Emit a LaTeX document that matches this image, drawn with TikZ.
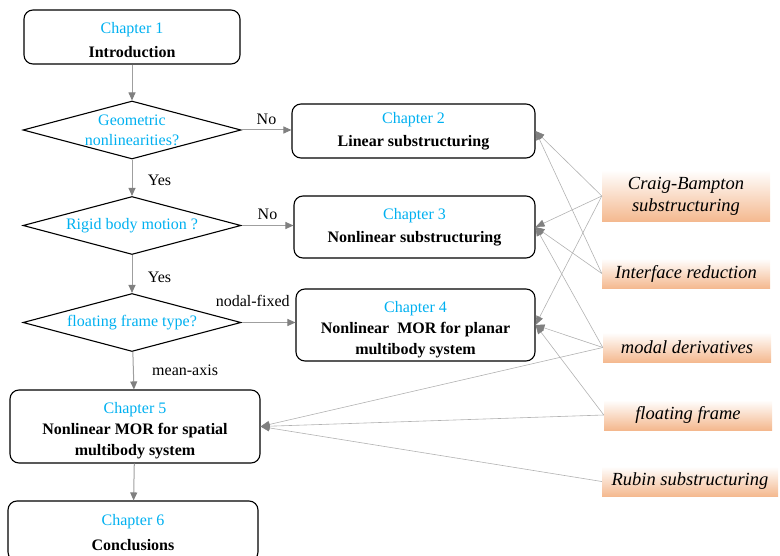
\documentclass[tikz,border=0pt]{standalone}
\usepackage{fontspec}
\setmainfont{Liberation Serif}
\usetikzlibrary{positioning, arrows.meta, shapes.geometric}
\definecolor{chapblue}{RGB}{0,176,240}
\definecolor{peach}{RGB}{244,184,142}
\newcommand{\chapno}[1]{{\color{chapblue}Chapter #1}}

\begin{document}
\begin{tikzpicture}[
		x=1pt, y=-1pt,
		box/.style={draw, line width=1.1pt, rounded corners=9pt, align=center, inner sep=0pt, font=\fontsize{16}{20.5}\selectfont},
		decision/.style={draw, line width=1.1pt, diamond, aspect=3.72, minimum width=218pt, minimum height=58pt, inner xsep=0pt, inner ysep=-3pt, align=center, text=chapblue, font=\fontsize{16}{20}\selectfont},
		tech/.style={top color=white, bottom color=peach, minimum width=168pt, inner sep=0pt, align=center, font=\fontsize{18.5}{22}\selectfont\itshape},
		lbl/.style={font=\fontsize{16}{20}\selectfont},
		arrow/.style={-{Triangle[length=8pt, width=7pt, color=gray]}, draw=gray!75, line width=1pt},
		ref/.style={-{Triangle[length=9pt, width=7pt, color=gray]}, draw=gray!60, line width=0.6pt}
		]
		\useasboundingbox (0,0) rectangle (780,556);
		
		% ==========================================
		% MAIN FLOW: chapters and decisions
		% ==========================================
		\node[box, minimum width=216pt, minimum height=54pt] (ch1) at (132,37) {
			\rule{0pt}{17pt}\chapno{1}\\[3pt]
			\textbf{Introduction}
		};
		\node[decision] (geo) at (132,130) {
			Geometric\\nonlinearities?
		};
		\node[box, minimum width=243pt, minimum height=54pt] (ch2) at (413.5,131) {
			\chapno{2}\\[3pt]
			\textbf{Linear substructuring}
		};
		\node[decision] (rigid) at (132,225.5) {Rigid body motion ?};
		\node[box, minimum width=241pt, minimum height=62pt] (ch3) at (414.5,227) {
			\chapno{3}\\[3pt]
			\textbf{Nonlinear substructuring}
		};
		\node[decision] (frame) at (132,322.5) {floating frame type?};
		\node[box, minimum width=239pt, minimum height=72pt] (ch4) at (415.5,325) {
			\rule{0pt}{20pt}\chapno{4}\\[1pt]
			\textbf{Nonlinear\ \ MOR for planar}\\
			\textbf{multibody system}
		};
		\node[box, minimum width=250pt, minimum height=73pt] (ch5) at (135,426.5) {
			\rule{0pt}{19pt}\chapno{5}\\[1pt]
			\textbf{Nonlinear MOR for spatial}\\
			\textbf{multibody system}
		};
		\node[box, minimum width=250pt, minimum height=60pt] (ch6) at (133,531) {
			\rule{0pt}{14pt}\chapno{6}\\[4pt]
			\textbf{Conclusions}
		};
		
		\draw[arrow] (ch1) -- (geo);
		\draw[arrow] (geo.east) -- (geo.east -| ch2.west) node[midway, above, yshift=2pt, lbl] {No};
		\draw[arrow] (geo) -- (rigid) node[midway, right=12pt, yshift=-3pt, lbl] {Yes};
		\draw[arrow] (rigid.east) -- (rigid.east -| ch3.west) node[midway, above, yshift=2pt, lbl] {No};
		\draw[arrow] (rigid) -- (frame) node[midway, right=12pt, yshift=-3pt, lbl] {Yes};
		\draw[arrow] (frame.east) -- (frame.east -| ch4.west) node[pos=1, above left, xshift=-2pt, yshift=12pt, lbl] {nodal-fixed};
		\draw[arrow] (frame) -- (ch5) node[midway, right=15pt, lbl] {mean-axis};
		\draw[arrow] (ch5) -- (ch6);
		
		% ==========================================
		% RIGHT COLUMN: techniques
		% ==========================================
		\node[tech, minimum height=52pt] (cb) at (686,196) {Craig-Bampton\\substructuring};
		\node[tech, minimum height=30pt] (ifr) at (686,273.5) {Interface reduction};
		\node[tech, minimum height=30pt] (md) at (687,347.5) {modal derivatives};
		\node[tech, minimum height=30pt] (ff) at (688,415) {floating frame};
		\node[tech, minimum width=176pt, minimum height=30pt] (rubin) at (690,481.5) {Rubin substructuring};
		
		% technique -> chapter links
		\draw[ref] (cb.west) -- (ch2.east);
		\draw[ref] (cb.west) -- (ch3.east);
		\draw[ref] (cb.west) -- (ch4.east);
		\draw[ref] (ifr.west) -- (ch2.east);
		\draw[ref] (ifr.west) -- (ch3.east);
		\draw[ref] (md.west) -- (ch3.east);
		\draw[ref] (md.west) -- (ch4.east);
		\draw[ref] (md.west) -- (ch5.east);
		\draw[ref] (ff.west) -- (ch4.east);
		\draw[ref] (ff.west) -- (ch5.east);
		\draw[ref] (rubin.west) -- (ch5.east);
		
	\end{tikzpicture}
\end{document}
